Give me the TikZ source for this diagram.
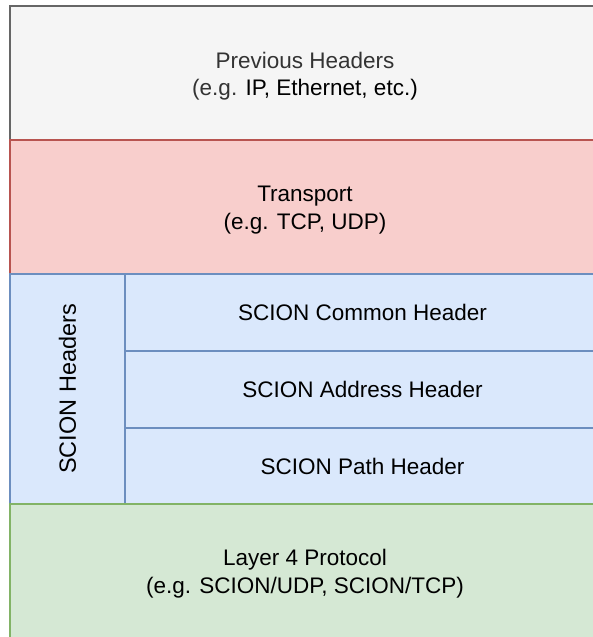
\documentclass[tikz,border=0pt]{standalone}
\usepackage{fontspec}
\setmainfont{Liberation Sans}
\definecolor{grayfill}{HTML}{F5F5F5}
\definecolor{graydraw}{HTML}{666666}
\definecolor{graytext}{HTML}{333333}
\definecolor{redfill}{HTML}{F8CECC}
\definecolor{reddraw}{HTML}{B85450}
\definecolor{bluefill}{HTML}{DAE8FC}
\definecolor{bluedraw}{HTML}{6C8EBF}
\definecolor{greenfill}{HTML}{D5E8D4}
\definecolor{greendraw}{HTML}{82B366}
\begin{document}
\begin{tikzpicture}[x=1pt,y=-1pt,
  layer/.style={draw, line width=1.5pt, inner sep=0pt, outer sep=0pt,
    align=center, font=\fontsize{22.5}{27.5}\selectfont},
  caption/.style={align=center, yshift=-3pt, inner sep=0pt,
    font=\fontsize{22.5}{27.5}\selectfont},
  grayl/.style={layer, fill=grayfill, draw=graydraw, text=graytext},
  redl/.style={layer, fill=redfill, draw=reddraw},
  bluel/.style={layer, fill=bluefill, draw=bluedraw},
  greenl/.style={layer, fill=greenfill, draw=greendraw}]
  \useasboundingbox (0,0) rectangle (593,637);
  \clip (0,0) rectangle (593,637);
  \fill[white] (0,0) rectangle (593,637);
  % stacked header layers
  \node[grayl, minimum width=590pt, minimum height=134pt,
    label={[caption, text=graytext]center:{Previous Headers\\(e.g. \textcolor{black}{IP, Ethernet, etc.)}}}]
    (prev) at (305,73) {};
  \node[redl, minimum width=590pt, minimum height=134pt,
    label={[caption]center:{Transport\\(e.g. TCP, UDP)}}]
    (trans) at (305,207) {};
  \node[bluel, minimum width=115pt, minimum height=230pt] (scion) at (67.5,389)
    {\fontsize{23.5}{28}\selectfont\rotatebox{90}{SCION Headers}};
  \node[bluel, minimum width=475pt, minimum height=77pt] (common) at (362.5,312.5)
    {SCION Common Header};
  \node[bluel, minimum width=475pt, minimum height=77pt] (addr) at (362.5,389.5)
    {SCION Address Header};
  \node[bluel, minimum width=475pt, minimum height=76pt] (path) at (362.5,466)
    {SCION Path Header};
  \node[greenl, minimum width=590pt, minimum height=135pt,
    label={[caption, yshift=1pt]center:{Layer 4 Protocol\\(e.g. SCION/UDP, SCION/TCP)}}]
    (l4) at (305,571.5) {};
\end{tikzpicture}
\end{document}
